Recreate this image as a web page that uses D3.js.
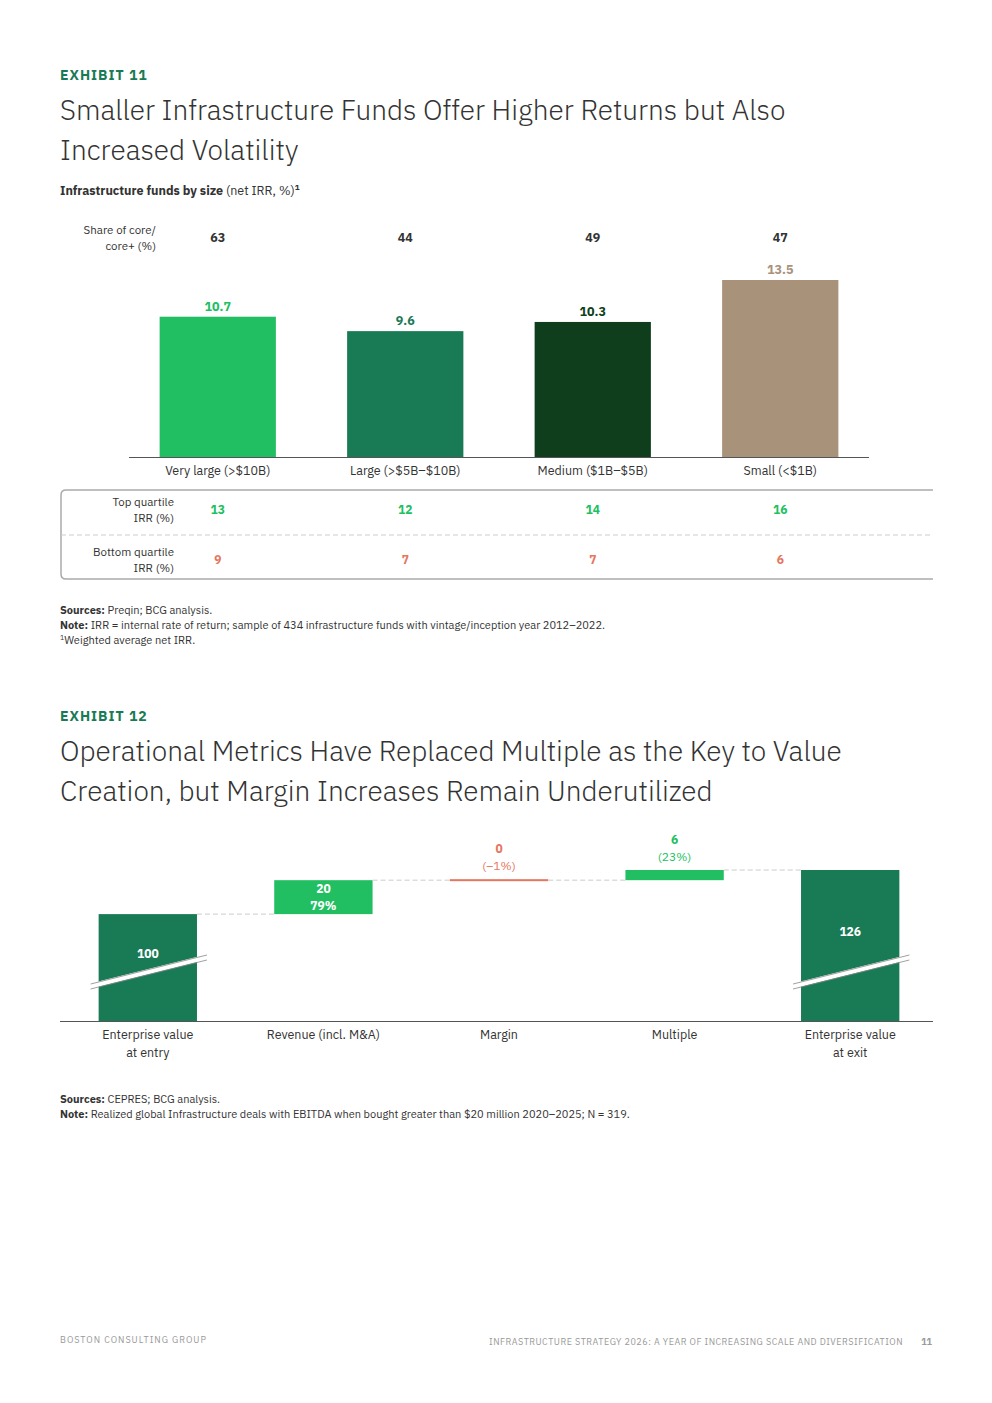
<!DOCTYPE html>
<html><head><meta charset="utf-8">
<script src="https://cdn.jsdelivr.net/npm/d3@7"></script>
<style>body{margin:0;background:#fff}text{font-family:"IBM Plex Sans","Noto Sans",sans-serif}</style>
</head><body>
<script>
var sizes = ["Very large (>$10B)", "Large (>$5B–$10B)", "Medium ($1B–$5B)", "Small (<$1B)"];
var netIrr = [10.7, 9.6, 10.3, 13.5];
var coreShare = [63, 44, 49, 47];
var topQuartile = [13, 12, 14, 16];
var bottomQuartile = [9, 7, 7, 6];
var barColors = ["#21bf61", "#197a56", "#0e3e1b", "#a8927a"];

var steps = ["Enterprise value\nat entry", "Revenue (incl. M&A)", "Margin", "Multiple", "Enterprise value\nat exit"];
var stepValues = [100, 20, 0, 6, 126];
var stepShares = [null, "79%", "(–1%)", "(23%)", null];

var W = 992, H = 1403;
var svg = d3.select("body").append("svg").attr("width", W).attr("height", H);
var dark = "#333", green = "#21bf61", red = "#e5765f", dgreen = "#197a56";

function txt(x, y, s, o) {
  o = o || {};
  return svg.append("text").attr("x", x).attr("y", y).text(s)
    .attr("font-size", o.size || 12).attr("fill", o.fill || dark)
    .attr("font-weight", o.weight || 400).attr("text-anchor", o.anchor || "start");
}

// Exhibit 11 header
txt(60, 80, "EXHIBIT 11", {size: 14, fill: dgreen, weight: 700}).attr("letter-spacing", 1);
txt(60, 120, "Smaller Infrastructure Funds Offer Higher Returns but Also", {size: 28, fill: "#333", weight: 300});
txt(60, 160, "Increased Volatility", {size: 28, fill: "#333", weight: 300});
var st = txt(60, 195, "", {size: 12.5, weight: 700});
st.append("tspan").text("Infrastructure funds by size ");
st.append("tspan").attr("font-weight", 400).text("(net IRR, %)");
st.append("tspan").attr("font-size", 8).attr("dy", -5).text("1");

var x1 = d3.scaleBand().domain(sizes).range([124, 874]).paddingInner(0.38).paddingOuter(0.19);
var y1 = d3.scaleLinear().domain([0, 13.5]).range([457, 280]);

txt(156, 234, "Share of core/", {anchor: "end", size: 11.5});
txt(156, 250, "core+ (%)", {anchor: "end", size: 11.5});

sizes.forEach(function (s, i) {
  var cx = x1(s) + x1.bandwidth() / 2;
  svg.append("rect").attr("x", x1(s)).attr("width", x1.bandwidth())
    .attr("y", y1(netIrr[i])).attr("height", y1(0) - y1(netIrr[i])).attr("fill", barColors[i]);
  txt(cx, y1(netIrr[i]) - 6, netIrr[i].toFixed(1), {anchor: "middle", weight: 700, fill: barColors[i], size: 12.5});
  txt(cx, 242, coreShare[i], {anchor: "middle", weight: 700, size: 12.5});
  txt(cx, 475, s, {anchor: "middle", size: 12.5});
  txt(cx, 514, topQuartile[i], {anchor: "middle", weight: 700, fill: green});
  txt(cx, 564, bottomQuartile[i], {anchor: "middle", weight: 700, fill: red});
});
svg.append("line").attr("x1", 129).attr("x2", 869).attr("y1", 457.5).attr("y2", 457.5).attr("stroke", "#555");

// quartile table
svg.append("path").attr("d", "M933,490 H66 Q61,490 61,495 V574 Q61,579 66,579 H933")
  .attr("fill", "none").attr("stroke", "#aaa").attr("stroke-width", 1.5);
svg.append("line").attr("x1", 61).attr("x2", 933).attr("y1", 535).attr("y2", 535)
  .attr("stroke", "#ccc").attr("stroke-dasharray", "5,3");
txt(174, 506, "Top quartile", {anchor: "end", size: 11.5});
txt(174, 522, "IRR (%)", {anchor: "end", size: 11.5});
txt(174, 556, "Bottom quartile", {anchor: "end", size: 11.5});
txt(174, 572, "IRR (%)", {anchor: "end", size: 11.5});

var n1 = txt(60, 614, "", {size: 11});
n1.append("tspan").attr("font-weight", 700).text("Sources: ");
n1.append("tspan").text("Preqin; BCG analysis.");
var n2 = txt(60, 629, "", {size: 11});
n2.append("tspan").attr("font-weight", 700).text("Note: ");
n2.append("tspan").text("IRR = internal rate of return; sample of 434 infrastructure funds with vintage/inception year 2012–2022.");
var n3 = txt(60, 644, "", {size: 11});
n3.append("tspan").attr("font-size", 7).attr("dy", -4).text("1");
n3.append("tspan").attr("dy", 4).text("Weighted average net IRR.");

// Exhibit 12
txt(60, 721, "EXHIBIT 12", {size: 14, fill: dgreen, weight: 700}).attr("letter-spacing", 1);
txt(60, 761, "Operational Metrics Have Replaced Multiple as the Key to Value", {size: 28, weight: 300});
txt(60, 801, "Creation, but Margin Increases Remain Underutilized", {size: 28, weight: 300});

var x2 = d3.scaleBand().domain(steps).range([60, 938]).paddingInner(0.44).paddingOuter(0.22);
var y2 = d3.scaleLinear().domain([37, 126]).range([1021, 870]);

var run = 0;
steps.forEach(function (s, i) {
  var v = stepValues[i], bx = x2(s), bw = x2.bandwidth(), cx = bx + bw / 2;
  var top, bot, col;
  if (i === 0 || i === steps.length - 1) {
    top = y2(v); bot = y2(37); col = dgreen; run = v;
  } else {
    var start = run; run += v;
    top = y2(Math.max(start, run)); bot = y2(Math.min(start, run));
    col = v === 0 ? red : green;
    if (v === 0) { top -= 1; bot += 1; }
  }
  svg.append("rect").attr("x", bx).attr("width", bw).attr("y", top).attr("height", bot - top).attr("fill", col);
  if (i < steps.length - 1) {
    var ny = y2(run);
    svg.append("line").attr("x1", bx + bw).attr("x2", x2(steps[i + 1])).attr("y1", ny).attr("y2", ny)
      .attr("stroke", "#ccc").attr("stroke-dasharray", "5,3");
  }
  if (i === 0 || i === steps.length - 1) {
    txt(cx, (top + bot) / 2 - 10, v, {anchor: "middle", fill: "#fff", weight: 700});
    // axis break
    var g = svg.append("g");
    g.append("path").attr("d", "M" + (bx - 8) + "," + (986) + " L" + (bx + bw + 10) + "," + (957))
      .attr("stroke", "#fff").attr("stroke-width", 5);
    g.append("path").attr("d", "M" + (bx - 8) + "," + (984) + " L" + (bx + bw + 10) + "," + (955) + " M" + (bx - 8) + "," + (989) + " L" + (bx + bw + 10) + "," + (960))
      .attr("stroke", "#888").attr("stroke-width", 0.8);
  } else if (i === 1) {
    txt(cx, top + 13, v, {anchor: "middle", fill: "#fff", weight: 700});
    txt(cx, top + 30, stepShares[i], {anchor: "middle", fill: "#fff", weight: 700});
  } else {
    var c = v === 0 ? red : green;
    txt(cx, top - 26, v, {anchor: "middle", fill: c, weight: 700});
    txt(cx, top - 9, stepShares[i], {anchor: "middle", fill: c});
  }
  s.split("\n").forEach(function (line, k) {
    txt(cx, 1039 + k * 18, line, {anchor: "middle", size: 12.5});
  });
});
svg.append("line").attr("x1", 60).attr("x2", 933).attr("y1", 1021.5).attr("y2", 1021.5).attr("stroke", "#555");

var n4 = txt(60, 1103, "", {size: 11});
n4.append("tspan").attr("font-weight", 700).text("Sources: ");
n4.append("tspan").text("CEPRES; BCG analysis.");
var n5 = txt(60, 1118, "", {size: 11});
n5.append("tspan").attr("font-weight", 700).text("Note: ");
n5.append("tspan").text("Realized global Infrastructure deals with EBITDA when bought greater than $20 million 2020–2025; N = 319.");

// footer
txt(60, 1343, "BOSTON CONSULTING GROUP", {size: 9, fill: "#999"}).attr("letter-spacing", 1);
txt(903, 1345, "INFRASTRUCTURE STRATEGY 2026: A YEAR OF INCREASING SCALE AND DIVERSIFICATION", {size: 9, fill: "#999", anchor: "end"}).attr("letter-spacing", 0.5);
txt(932, 1345, "11", {size: 9, fill: "#999", anchor: "end", weight: 700});
</script>
</body></html>
